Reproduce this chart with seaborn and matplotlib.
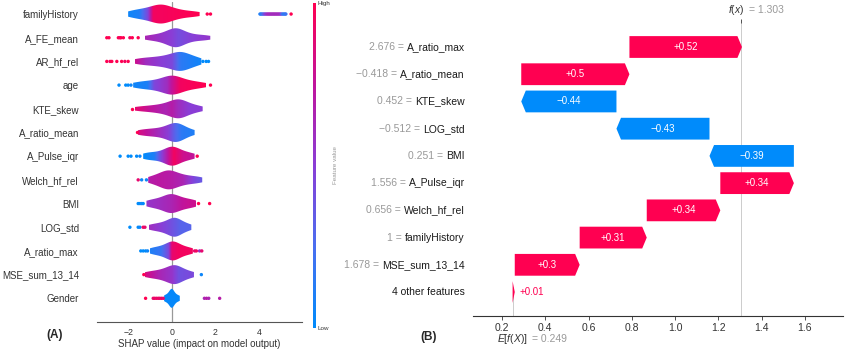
import numpy as np
import pandas as pd
import matplotlib
matplotlib.use("Agg")
import matplotlib.pyplot as plt
import seaborn as sns
from matplotlib.colors import LinearSegmentedColormap
from matplotlib.cm import ScalarMappable

# ---------------- Panel A data (SHAP violin summary) ----------------
features = ["familyHistory", "A_FE_mean", "AR_hf_rel", "age", "KTE_skew", "A_ratio_mean",
            "A_Pulse_iqr", "Welch_hf_rel", "BMI", "LOG_std", "A_ratio_max", "MSE_sum_13_14", "Gender"]

# SHAP values forming each violin body
body_familyHistory = [-2.0, -1.8, -1.6, -1.45, -1.3, -1.15, -1.0, -0.9, -0.8, -0.7, -0.6, -0.55, -0.5, -0.45, -0.4, -0.3, -0.2, -0.1, 0.0, 0.15, 0.3, 0.5, 0.75, 1.0, 1.28]
body_A_FE_mean = [-1.23, -0.95, -0.7, -0.5, -0.35, -0.2, -0.1, 0.0, 0.1, 0.15, 0.2, 0.2, 0.25, 0.3, 0.4, 0.5, 0.65, 0.8, 1.0, 1.25, 1.5, 1.77]
body_AR_hf_rel = [-1.69, -1.45, -1.2, -1.0, -0.8, -0.6, -0.45, -0.3, -0.15, 0.0, 0.1, 0.2, 0.3, 0.35, 0.4, 0.45, 0.5, 0.6, 0.7, 0.85, 1.0, 1.15, 1.36]
body_age = [-1.77, -1.5, -1.25, -1.05, -0.85, -0.65, -0.5, -0.35, -0.2, -0.1, -0.05, 0.0, 0.05, 0.1, 0.2, 0.3, 0.45, 0.6, 0.8, 1.0, 1.25, 1.58]
body_KTE_skew = [-1.69, -1.35, -1.05, -0.8, -0.6, -0.4, -0.25, -0.1, 0.05, 0.15, 0.22, 0.28, 0.3, 0.35, 0.42, 0.5, 0.6, 0.75, 0.95, 1.15, 1.42]
body_A_ratio_mean = [-1.57, -1.3, -1.05, -0.85, -0.65, -0.45, -0.3, -0.15, -0.05, 0.05, 0.12, 0.18, 0.22, 0.28, 0.35, 0.45, 0.58, 0.75, 1.05]
body_A_Pulse_iqr = [-1.31, -1.1, -0.9, -0.7, -0.5, -0.35, -0.2, -0.1, -0.05, 0.0, 0.05, 0.1, 0.2, 0.3, 0.45, 0.6, 0.8, 1.05]
body_Welch_hf_rel = [-1.08, -0.85, -0.65, -0.5, -0.38, -0.28, -0.2, -0.15, -0.1, 0.0, 0.1, 0.2, 0.35, 0.5, 0.7, 0.9, 1.15, 1.4]
body_BMI = [-1.16, -0.9, -0.7, -0.5, -0.35, -0.2, -0.1, -0.05, 0.0, 0.1, 0.2, 0.35, 0.5, 0.7, 0.9, 1.13]
body_LOG_std = [-1.05, -0.8, -0.6, -0.42, -0.28, -0.15, -0.05, 0.05, 0.1, 0.15, 0.2, 0.28, 0.38, 0.5, 0.68, 0.9]
body_A_ratio_max = [-1.0, -0.78, -0.58, -0.42, -0.28, -0.15, -0.05, 0.0, 0.05, 0.1, 0.18, 0.28, 0.4, 0.55, 0.75, 0.97]
body_MSE_sum_13_14 = [-1.23, -0.95, -0.72, -0.52, -0.35, -0.2, -0.08, 0.02, 0.1, 0.15, 0.2, 0.28, 0.4, 0.55, 0.75, 1.02]
body_Gender = [-0.35, -0.25, -0.15, -0.08, -0.03, 0.0, 0.0, 0.03, 0.08, 0.15, 0.25, 0.37]

# colour (feature value 0=low .. 1=high) along each violin: SHAP x positions and values
cx_familyHistory = [-2.0, -1.5, -1.1, -0.85, 1.3];          cv_familyHistory = [0.05, 0.1, 0.45, 0.95, 1.0]
cx_A_FE_mean = [-1.23, -0.5, 0.0, 0.3, 0.8, 1.77];           cv_A_FE_mean = [0.65, 0.55, 0.5, 0.42, 0.48, 0.55]
cx_AR_hf_rel = [-1.69, -1.2, -0.5, 0.0, 0.4, 1.36];          cv_AR_hf_rel = [0.8, 0.6, 0.5, 0.45, 0.15, 0.05]
cx_age = [-1.77, -1.1, -0.8, -0.2, 0.0, 0.4, 1.58];          cv_age = [0.05, 0.1, 0.45, 0.6, 0.75, 0.95, 1.0]
cx_KTE_skew = [-1.69, -1.0, -0.3, 0.0, 0.3, 0.8, 1.42];      cv_KTE_skew = [0.9, 0.75, 0.65, 0.7, 0.6, 0.5, 0.5]
cx_A_ratio_mean = [-1.57, -0.8, -0.2, 0.1, 0.4, 1.05];       cv_A_ratio_mean = [0.85, 0.65, 0.5, 0.3, 0.15, 0.1]
cx_A_Pulse_iqr = [-1.31, -0.8, -0.5, -0.1, 0.1, 0.5, 1.05];  cv_A_Pulse_iqr = [0.0, 0.1, 0.45, 0.8, 0.95, 0.8, 0.75]
cx_Welch_hf_rel = [-1.08, -0.5, 0.0, 0.5, 1.0, 1.4];         cv_Welch_hf_rel = [0.7, 0.72, 0.7, 0.65, 0.45, 0.35]
cx_BMI = [-1.16, -0.5, 0.0, 0.5, 1.13];                      cv_BMI = [0.55, 0.6, 0.65, 0.75, 0.8]
cx_LOG_std = [-1.05, -0.5, 0.0, 0.4, 0.9];                   cv_LOG_std = [0.6, 0.5, 0.4, 0.3, 0.3]
cx_A_ratio_max = [-1.0, -0.5, -0.15, 0.0, 0.3, 0.97];        cv_A_ratio_max = [0.1, 0.2, 0.45, 0.9, 0.95, 0.95]
cx_MSE_sum_13_14 = [-1.23, -0.6, 0.0, 0.3, 1.02];            cv_MSE_sum_13_14 = [0.85, 0.65, 0.55, 0.4, 0.45]
cx_Gender = [-0.35, 0.37];                                   cv_Gender = [0.02, 0.02]

# individual points outside the violin bodies: SHAP values and feature values
dx_familyHistory = [1.63, 1.78, 4.05, 4.1, 4.15, 4.2, 4.25, 4.3, 4.35, 4.4, 4.45, 4.5, 4.55, 4.6, 4.65, 4.7, 4.75, 4.8, 4.85, 4.9, 4.95, 5.0, 5.05, 5.1, 5.15, 5.2, 5.24, 5.48]
dv_familyHistory = [1.0, 1.0, 0.1, 0.15, 0.2, 0.3, 0.4, 0.5, 0.55, 0.6, 0.62, 0.62, 0.62, 0.62, 0.6, 0.62, 0.62, 0.6, 0.62, 0.6, 0.6, 0.55, 0.3, 0.2, 0.15, 0.15, 0.2, 1.0]
dx_A_FE_mean = [-2.98, -2.88, -2.45, -2.38, -2.33, -2.22, -1.92, -1.81, -1.54]
dv_A_FE_mean = [1.0, 1.0, 1.0, 0.95, 1.0, 1.0, 0.95, 1.0, 1.0]
dx_AR_hf_rel = [-2.98, -2.83, -2.75, -2.52, -2.3, -2.15, -2.0, 1.43, 1.58, 1.69]
dv_AR_hf_rel = [1.0, 0.95, 1.0, 1.0, 1.0, 0.95, 1.0, 0.0, 0.0, 0.0]
dx_age = [-2.42, -2.11, -2.0, -1.87, 1.78]
dv_age = [0.0, 0.0, 0.0, 0.05, 1.0]
dx_KTE_skew = [-1.84]
dv_KTE_skew = [1.0]
dx_A_ratio_mean = [-1.6]
dv_A_ratio_mean = [1.0]
dx_A_Pulse_iqr = [-2.37, -2.0, -1.87, -1.61, -1.46, 1.17]
dv_A_Pulse_iqr = [0.0, 0.0, 0.0, 0.0, 0.05, 1.0]
dx_Welch_hf_rel = [-1.54, -1.38, -1.16]
dv_Welch_hf_rel = [0.9, 0.05, 0.05]
dx_BMI = [-1.54, -1.46, -1.38, -1.31, 1.23, 1.74]
dv_BMI = [0.0, 0.0, 0.05, 0.0, 1.0, 1.0]
dx_LOG_std = [-1.92, -1.54, -1.46, -1.31, -1.23]
dv_LOG_std = [0.0, 0.0, 0.05, 0.95, 0.9]
dx_A_ratio_max = [-1.42, -1.31, -1.2, -1.11, 1.05, 1.13, 1.28, 1.38]
dv_A_ratio_max = [0.0, 0.0, 0.0, 0.05, 0.9, 0.95, 0.6, 0.9]
dx_MSE_sum_13_14 = [-1.28, 1.36]
dv_MSE_sum_13_14 = [1.0, 0.05]
dx_Gender = [-1.2, -0.85, -0.78, -0.7, -0.62, -0.55, -0.47, -0.39, 1.5, 1.6, 1.7, 2.2]
dv_Gender = [1.0, 0.9, 0.95, 0.9, 0.95, 0.9, 0.95, 0.9, 0.65, 0.7, 0.65, 0.7]

# ---------------- Panel B data (SHAP waterfall) ----------------
wf_values_text = ["2.676", "\u22120.418", "0.452", "\u22120.512", "0.251", "1.556", "0.656", "1", "1.678", ""]
wf_names = ["A_ratio_max", "A_ratio_mean", "KTE_skew", "LOG_std", "BMI", "A_Pulse_iqr",
            "Welch_hf_rel", "familyHistory", "MSE_sum_13_14", "4 other features"]
wf_shap = [0.52, 0.50, -0.44, -0.43, -0.39, 0.34, 0.34, 0.31, 0.30, 0.01]
base_value = 0.249
fx_value = 1.303
wf_xticks = [0.2, 0.4, 0.6, 0.8, 1.0, 1.2, 1.4, 1.6]

# ---------------- style ----------------
sns.set_style("white")
plt.rcParams["font.family"] = ["Liberation Sans", "DejaVu Sans"]
plt.rcParams["mathtext.fontset"] = "custom"
plt.rcParams["mathtext.rm"] = "Liberation Sans"
plt.rcParams["mathtext.it"] = "Liberation Sans:italic"

RED = "#ff0051"
BLUE = "#008bfb"
cmap = LinearSegmentedColormap.from_list(
    "shap_rb", [(0.0, "#008bfb"), (0.25, "#4a6ef0"), (0.5, "#8a3ed6"),
                (0.75, "#c0149c"), (1.0, "#ff0051")])

W, H = 850, 351
fig = plt.figure(figsize=(W / 100, H / 100), dpi=100)

# ================= Panel A =================
g = globals()
bodies = [g["body_" + f] for f in features]
stops = [(g["cx_" + f], g["cv_" + f]) for f in features]
dots = [(g["dx_" + f], g["dv_" + f]) for f in features]

axA = fig.add_axes([97 / W, 1 - 322 / H, (302 - 97) / W, (322 - 2.2) / H])
df = pd.DataFrame([(f, v) for f, b in zip(features, bodies) for v in b], columns=["feature", "shap"])
sns.violinplot(data=df, x="shap", y="feature", order=features, orient="h", cut=0,
               density_norm="width", width=0.8, inner=None, linewidth=0, bw_adjust=0.8,
               color="white", ax=axA)

for coll in list(axA.collections):
    paths = coll.get_paths()
    if not paths:
        continue
    path = paths[0]
    v = path.vertices
    if len(v) == 0:
        continue
    i = int(round((v[:, 1].min() + v[:, 1].max()) / 2))
    x0, x1 = v[:, 0].min(), v[:, 0].max()
    xs = np.linspace(x0, x1, 300)
    vals = np.interp(xs, stops[i][0], stops[i][1])
    im = axA.imshow(vals[np.newaxis, :], extent=[x0, x1, i + 0.5, i - 0.5], cmap=cmap,
                    vmin=0, vmax=1, aspect="auto", interpolation="bilinear", zorder=2)
    im.set_clip_path(path, transform=coll.get_transform())
    coll.set_facecolor("none")
    coll.set_edgecolor("none")

for i, (dx, dv) in enumerate(dots):
    axA.scatter(dx, [i] * len(dx), c=dv, cmap=cmap, vmin=0, vmax=1, s=6, linewidths=0, zorder=3)

axA.axvline(0, color="#999999", lw=0.9, zorder=1)
axA.set_xlim(-3.43, 5.98)
axA.set_ylim(13.0, -0.5)
axA.set_xticks([-2, 0, 2, 4])
axA.set_xticklabels(["\u22122", "0", "2", "4"])
axA.tick_params(axis="x", labelsize=6.3, colors="#333333", length=3, width=0.6, pad=1.5)
axA.tick_params(axis="y", labelsize=7, colors="#333333", length=0, pad=13)
axA.set_ylabel("")
axA.set_xlabel("SHAP value (impact on model output)", fontsize=7, color="#333333", labelpad=1)
for s in ["top", "right", "left"]:
    axA.spines[s].set_visible(False)
axA.spines["bottom"].set_color("#555555")
axA.spines["bottom"].set_linewidth(0.8)

# colour bar
cax = fig.add_axes([312.5 / W, 1 - 328 / H, 3.3 / W, 325 / H])
cb = fig.colorbar(ScalarMappable(cmap=cmap, norm=plt.Normalize(0, 1)), cax=cax)
cb.outline.set_visible(False)
cb.set_ticks([0, 1])
cb.set_ticklabels(["Low", "High"])
cax.tick_params(length=0, labelsize=4.5, pad=1.5, colors="#333333")
cb.set_label("Feature value", fontsize=4.5, color="#999999", labelpad=2)

# ================= Panel B =================
axB = fig.add_axes([473 / W, 1 - 316 / H, (843 - 473) / W, (316 - 22.5) / H])
n = len(wf_names)
ys = np.arange(n)
starts = []
cur = base_value
for v in wf_shap[::-1]:
    starts.append(cur)
    cur += v
starts = starts[::-1]

xmin, xmax = 0.066, 1.776
axB.set_xlim(xmin, xmax)
axB.set_ylim(n - 0.12, -0.9)

bh = 0.8
hl_full = 0.021
for y, s, v in zip(ys, starts, wf_shap):
    col = RED if v > 0 else BLUE
    hl = min(hl_full, abs(v))
    e = s + v
    if v > 0:
        px = [s, e - hl, e, e - hl, s]
    else:
        px = [s, e + hl, e, e + hl, s]
    py = [y - bh / 2, y - bh / 2, y, y + bh / 2, y + bh / 2]
    axB.fill(px, py, color=col, lw=0, zorder=3)
    lab = ("+" if v > 0 else "\u2212") + f"{abs(v):g}"
    if abs(v) > 0.1:
        axB.text(s + v / 2, y, lab, ha="center", va="center", color="white", fontsize=7, zorder=4)
    else:
        axB.text(e + 0.024, y, lab, ha="left", va="center", color=col, fontsize=7, zorder=4)

    # y labels: dark name, grey "value =" to its left
    name_t = axB.annotate(wf_names[y], xy=(0, y), xycoords=("axes fraction", "data"), xytext=(-6, 0),
                          textcoords="offset points", ha="right", va="center", fontsize=7.5,
                          color="#1a1a1a")
    if wf_values_text[y]:
        axB.annotate(wf_values_text[y] + " =", xy=(0, 0.5), xycoords=name_t, xytext=(-2.2, 0),
                     textcoords="offset points", ha="right", va="center", fontsize=7.5,
                     color="#999999")

axB.axvline(fx_value, 0, 1, color="#cccccc", lw=0.7, zorder=1)
axB.axvline(base_value, 0, 1 / n, color="#cccccc", lw=0.7, zorder=1)

axB.set_yticks([])
axB.set_xticks(wf_xticks)
axB.set_xticklabels([f"{t:.1f}" for t in wf_xticks])
axB.tick_params(axis="x", labelsize=7.5, colors="#333333", length=3, width=0.6, pad=2)
for s in ["top", "right", "left"]:
    axB.spines[s].set_visible(False)
axB.spines["bottom"].set_color("#333333")
axB.spines["bottom"].set_linewidth(0.8)

ax2 = axB.twiny()
ax2.set_xlim(xmin, xmax)
ax2.set_xticks([fx_value])
ax2.set_xticklabels([""])
ax2.tick_params(axis="x", length=3, width=0.6, colors="#333333")
for s in ax2.spines.values():
    s.set_visible(False)

fx_t = axB.annotate("$f(x)$", xy=(fx_value, 1), xycoords=("data", "axes fraction"), xytext=(3, 9),
                    textcoords="offset points", ha="right", va="center", fontsize=7.5, color="#333333")
axB.annotate("= 1.303", xy=(1, 0.5), xycoords=fx_t, xytext=(3, 0),
             textcoords="offset points", ha="left", va="center", fontsize=7.5, color="#999999")
ef_t = axB.annotate("$E[f(X)]$", xy=(base_value, 0), xycoords=("data", "axes fraction"), xytext=(0, -16.5),
                    textcoords="offset points", ha="center", va="center", fontsize=7.5, color="#333333")
axB.annotate("= 0.249", xy=(1, 0.5), xycoords=ef_t, xytext=(3, 0),
             textcoords="offset points", ha="left", va="center", fontsize=7.5, color="#999999")

fig.text(55 / W, 1 - 335 / H, "(A)", ha="center", va="center", fontsize=8.5, fontweight="bold")
fig.text(429 / W, 1 - 337 / H, "(B)", ha="center", va="center", fontsize=8.5, fontweight="bold")

fig.savefig("out.png", dpi=100)
